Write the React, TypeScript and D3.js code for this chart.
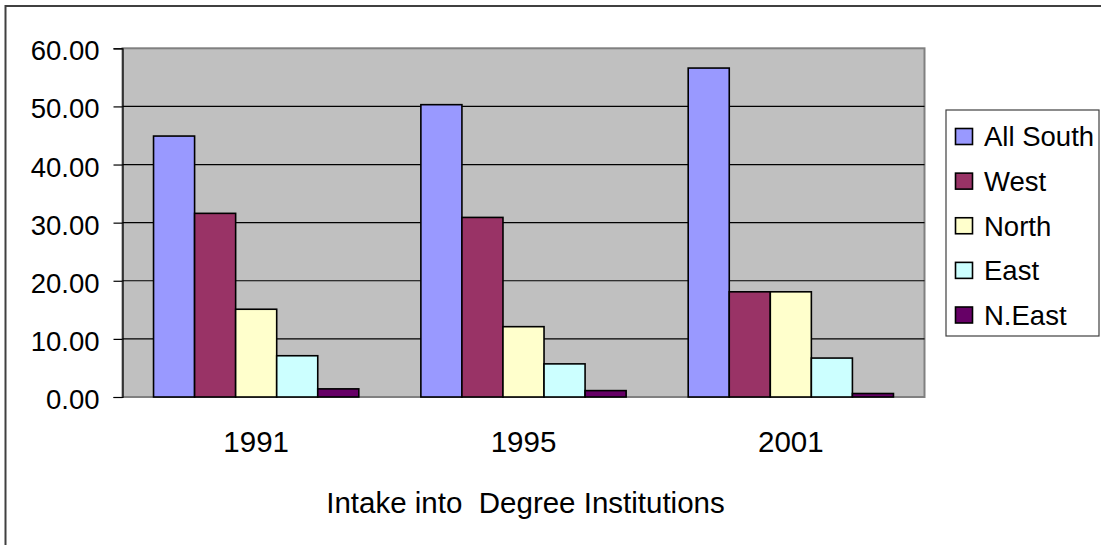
import React, { useEffect, useRef } from "react";
import * as d3 from "d3";

// data
const years = ["1991", "1995", "2001"];
const regions = ["All South", "West", "North", "East", "N.East"];
const allSouth = [44.9, 50.3, 56.6];
const west = [31.6, 30.9, 18.1];
const north = [15.1, 12.1, 18.1];
const east = [7.1, 5.7, 6.7];
const nEast = [1.4, 1.1, 0.6];
const colors = ["#9999FF", "#993366", "#FFFFCC", "#CCFFFF", "#660066"];
const yTicks = [0, 10, 20, 30, 40, 50, 60];
const title = "Intake into  Degree Institutions";

const App = () => {
    const svgRef = useRef<SVGSVGElement>(null);

    useEffect(() => {
        const width = 1101;
        const height = 545;
        const plot = { left: 122.5, top: 48.3, right: 924.5, bottom: 397 };
        const font = "Arial, 'Liberation Sans', sans-serif";
        const fs = 27.5;   // y ticks, legend
        const fsX = 29.5;  // category labels, axis title

        const svg = d3.select(svgRef.current);
        svg.selectAll("*").remove();
        svg.attr("width", width).attr("height", height);

        // outer chart border (only top/left fall inside the picture)
        svg.append("rect")
            .attr("x", 5.5).attr("y", 6)
            .attr("width", 1110).attr("height", 560)
            .attr("fill", "white")
            .attr("stroke", "#404040").attr("stroke-width", 2);

        const series = [allSouth, west, north, east, nEast];

        const x0 = d3.scaleBand().domain(years).range([plot.left, plot.right]).paddingInner(0).paddingOuter(0);
        const x1 = d3.scaleBand().domain(regions).range([0, x0.bandwidth()]).paddingInner(0).paddingOuter(0.756);
        const y = d3.scaleLinear().domain([0, 60]).range([plot.bottom, plot.top]);

        // plot area
        svg.append("rect")
            .attr("x", plot.left).attr("y", plot.top)
            .attr("width", plot.right - plot.left).attr("height", plot.bottom - plot.top)
            .attr("fill", "#C0C0C0")
            .attr("stroke", "#808080").attr("stroke-width", 2);

        // gridlines
        svg.append("g").selectAll("line")
            .data(yTicks.filter((t) => t > 0 && t < 60))
            .enter().append("line")
            .attr("x1", plot.left).attr("x2", plot.right)
            .attr("y1", (d) => y(d)).attr("y2", (d) => y(d))
            .attr("stroke", "#000").attr("stroke-width", 1.2);

        // y axis
        const yAxis = d3.axisLeft(y).tickValues(yTicks).tickFormat(d3.format(".2f")).tickSize(9).tickPadding(14);
        const gy = svg.append("g").attr("transform", `translate(${plot.left},0)`).call(yAxis);
        gy.select(".domain").attr("stroke", "#000").attr("stroke-width", 1.2);
        gy.selectAll(".tick line").attr("stroke", "#000").attr("stroke-width", 1.2);
        gy.selectAll(".tick text")
            .attr("font-family", font).attr("font-size", fs).attr("fill", "#000")
            .attr("dy", "0.42em");

        // bars
        const groups = svg.append("g").selectAll("g")
            .data(years)
            .enter().append("g")
            .attr("transform", (d) => `translate(${x0(d)},0)`);

        groups.selectAll("rect")
            .data((_, i) => series.map((s, j) => ({ region: regions[j], value: s[i], color: colors[j] })))
            .enter().append("rect")
            .attr("x", (d) => x1(d.region)!)
            .attr("width", x1.bandwidth())
            .attr("y", (d) => y(d.value))
            .attr("height", (d) => plot.bottom - y(d.value))
            .attr("fill", (d) => d.color)
            .attr("stroke", "#000").attr("stroke-width", 1.6);

        // x labels
        svg.append("g").selectAll("text")
            .data(years)
            .enter().append("text")
            .attr("x", (d) => x0(d)! + x0.bandwidth() / 2)
            .attr("y", 452)
            .attr("text-anchor", "middle")
            .attr("font-family", font).attr("font-size", fsX)
            .text((d) => d);

        // axis title
        svg.append("text")
            .attr("x", (plot.left + plot.right) / 2 + 2)
            .attr("y", 513)
            .attr("text-anchor", "middle")
            .attr("font-family", font).attr("font-size", fsX)
            .attr("xml:space", "preserve")
            .style("white-space", "pre")
            .text(title);

        // legend
        const legend = svg.append("g");
        legend.append("rect")
            .attr("x", 946).attr("y", 110)
            .attr("width", 153).attr("height", 226)
            .attr("fill", "white")
            .attr("stroke", "#404040").attr("stroke-width", 1.2);

        const ly = d3.scalePoint().domain(regions).range([136.5, 315]);
        const items = legend.selectAll("g.item")
            .data(regions)
            .enter().append("g")
            .attr("class", "item")
            .attr("transform", (d) => `translate(0,${ly(d)})`);
        items.append("rect")
            .attr("x", 955.5).attr("y", -8)
            .attr("width", 17).attr("height", 16)
            .attr("fill", (_, i) => colors[i])
            .attr("stroke", "#000").attr("stroke-width", 1.6);
        items.append("text")
            .attr("x", 984)
            .attr("y", 0)
            .attr("dy", "0.36em")
            .attr("font-family", font).attr("font-size", fs)
            .text((d) => d);
    }, []);

    return <svg ref={svgRef} style={{ position: "absolute", left: 0, top: 0 }}></svg>;
};

export default App;
